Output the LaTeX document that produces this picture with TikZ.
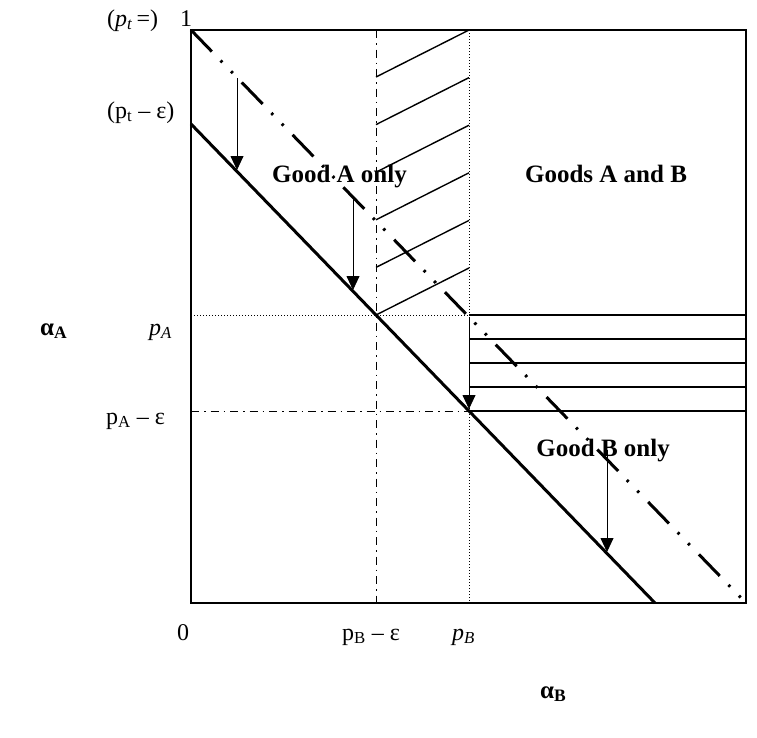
\documentclass[tikz,border=0pt]{standalone}
\usepackage{fontspec}
\setmainfont{Liberation Serif}
\usetikzlibrary{arrows.meta}
\begin{document}
\begin{tikzpicture}[x=1pt,y=-1pt,
  lbl/.style={inner sep=0pt, font=\fontsize{24}{28}\selectfont},
  blbl/.style={inner sep=0pt, font=\fontsize{25}{29}\selectfont\bfseries},
  frame/.style={line width=1.8pt},
  budget/.style={line width=3pt},
  oldbudget/.style={line width=3pt, dash pattern=on 30pt off 12.5pt on 2.5pt off 12.5pt on 2.5pt off 13pt},
  dotln/.style={line width=1pt, dash pattern=on 1pt off 2pt},
  dashdot/.style={line width=1pt, dash pattern=on 8pt off 5pt on 1.5pt off 5pt},
  hatch/.style={line width=1.4pt},
  shiftarrow/.style={line width=0.8pt, -{Triangle[width=13pt,length=14pt]}}
]
\useasboundingbox[fill=white] (0,0) rectangle (757,737);
% corners
\coordinate (TL) at (191,30);
\coordinate (TR) at (746,30);
\coordinate (BR) at (746,603);
\coordinate (BL) at (191,603);
% guide lines
\coordinate (PAl) at (191,315);
\coordinate (PAm) at (469,315);
\coordinate (PEl) at (191,411);
\coordinate (PEm) at (469,411);
\coordinate (VBt) at (469,30);
\coordinate (VBb) at (469,603);
\coordinate (VEt) at (376,30);
\coordinate (VEb) at (376,603);
\draw[dotln] (VBt) -- (VBb);
\draw[dashdot] (VEt) -- (VEb);
\draw[dotln] (PAl) -- (PAm);
\draw[dashdot] (PEl) -- (PEm);
% diagonal hatching
\foreach \i in {0,...,5}{
  \draw[hatch] (376,{315-47.6*(5-\i)}) -- (469,{315-47.6*(5-\i)-47});
}
% horizontal hatching
\foreach \yy in {315,339,363,387,411}{
  \draw[hatch] (469,\yy) -- (746,\yy);
}
% budget lines
\coordinate (S0) at (191,124);
\coordinate (S1) at (655,603);
\draw[oldbudget] (TL) -- (BR);
\draw[budget] (S0) -- (S1);
% frame
\draw[frame] (TL) -- (TR) -- (BR) -- (BL) -- cycle;
% shift arrows
\coordinate (a1s) at (237,78);  \coordinate (a1e) at (237,170);
\coordinate (a2s) at (353,197); \coordinate (a2e) at (353,290);
\coordinate (a3s) at (469,317); \coordinate (a3e) at (469,409);
\coordinate (a4s) at (607,450); \coordinate (a4e) at (607,552);
\draw[shiftarrow] (a1s) -- (a1e);
\draw[shiftarrow] (a2s) -- (a2e);
\draw[shiftarrow] (a3s) -- (a3e);
\draw[shiftarrow] (a4s) -- (a4e);
% region labels
\node[blbl, anchor=base east] (goodA) at (407,182) {Good A only};
\node[blbl, anchor=base] (goodAB) at (606,182) {Goods A and B};
\node[blbl, anchor=base east] (goodB) at (670,456) {Good B only};
% axis labels
\node[lbl, anchor=base west] (pt) at (107,26) {(\textit{p}\textsubscript{\textit{t}}\,=)};
\node[lbl, anchor=base west] (one) at (180,26) {1};
\node[lbl, anchor=base west] (pte) at (107,118) {(p\textsubscript{t} – ε)};
\node[lbl, anchor=base west] (pa) at (149,335) {\textit{p}\textsubscript{\textit{A}}};
\node[lbl, anchor=base west] (pae) at (106,424) {p\textsubscript{A} – ε};
\node[lbl, anchor=base west] (zero) at (177,640) {0};
\node[lbl, anchor=base west] (pbe) at (342,640) {p\textsubscript{B} – ε};
\node[lbl, anchor=base west] (pb) at (452,640) {\textit{p}\textsubscript{\textit{B}}};
\node[blbl, anchor=base west] (alA) at (40,335) {α\textsubscript{A}};
\node[blbl, anchor=base west] (alB) at (540,698) {α\textsubscript{B}};
\end{tikzpicture}
\end{document}
